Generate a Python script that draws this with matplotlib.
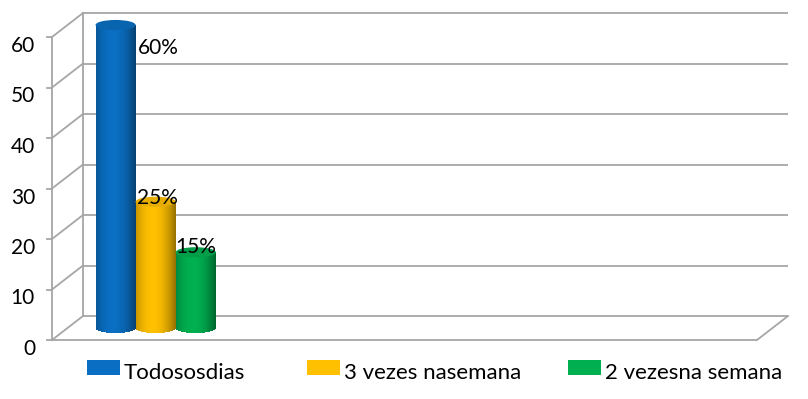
import numpy as np
import matplotlib
matplotlib.use("Agg")
import matplotlib.pyplot as plt
from matplotlib.patches import Ellipse, Rectangle
from matplotlib.transforms import ScaledTranslation, IdentityTransform
from matplotlib.colors import to_rgb

# ---- data ----
series_names = ["Todososdias", "3 vezes nasemana", "2 vezesna semana"]
values = [60, 25, 15]
value_labels = ["60%", "25%", "15%"]
colors = ["#0A6FC2", "#FFC000", "#00B050"]
yticks = [0, 10, 20, 30, 40, 50, 60]
n_categories = 4  # only the first category holds data

plt.rcParams['font.family'] = ['Lato', 'DejaVu Sans']

W, H = 808, 399
fig = plt.figure(figsize=(W / 100, H / 100), dpi=100)
ax = fig.add_axes([52 / W, (H - 340) / H, (757 - 52) / W, (340 - 37) / H])
ax.set_xlim(-0.5, n_categories - 0.5)
ax.set_ylim(0, 60)
ax.axis('off')

# depth offsets (inches)
back = ax.transData + ScaledTranslation(0.31, 0.24, fig.dpi_scale_trans)
mid = ax.transData + ScaledTranslation(0.155, 0.12, fig.dpi_scale_trans)

grid_c = "#A6A6A6"
lw = 1.3
x0, x1 = ax.get_xlim()

# back wall gridlines
for v in yticks:
    ax.plot([x0, x1], [v, v], color=grid_c, lw=lw, transform=back, zorder=1,
            solid_capstyle='butt', clip_on=False)

fig.canvas.draw()
ident = IdentityTransform()

def disp(x, y, tr):
    return tr.transform((x, y))

# left side-wall diagonals and verticals
for v in yticks:
    pf = disp(x0, v, ax.transData)
    pb = disp(x0, v, back)
    ax.add_line(plt.Line2D([pf[0], pb[0]], [pf[1], pb[1]], color=grid_c, lw=lw,
                           transform=ident, zorder=1, clip_on=False))
    ax.add_line(plt.Line2D([pf[0] - 5, pf[0]], [pf[1], pf[1]], color=grid_c, lw=lw,
                           transform=ident, zorder=1, clip_on=False))
    ax.text(pf[0] - 17, pf[1] - 9, str(v), transform=ident, ha='right', va='center',
            fontsize=15, color='black', clip_on=False)

ax.plot([x0, x0], [0, 60], color=grid_c, lw=lw, zorder=1, clip_on=False)
ax.plot([x0, x0], [0, 60], color=grid_c, lw=lw, transform=back, zorder=1, clip_on=False)
ax.plot([x0, x1], [0, 0], color=grid_c, lw=lw, zorder=1, solid_capstyle='butt', clip_on=False)
pf = disp(x1, 0, ax.transData)
pb = disp(x1, 0, back)
ax.add_line(plt.Line2D([pf[0], pb[0]], [pf[1], pb[1]], color=grid_c, lw=lw,
                       transform=ident, zorder=1, clip_on=False))

# cylinders
bw = 1.0 / (len(values) + 1.4)
e = 1.0  # ellipse half-height in data units
nsl = 60

def shade(base, t):
    b = np.array(to_rgb(base))
    k = 1.0 - 0.42 * ((t + 0.15) / 1.15) ** 2
    k = np.clip(k, 0.5, 1.08)
    if k > 1:
        return tuple(np.clip(b + (1 - b) * (k - 1) * 2, 0, 1))
    return tuple(b * k)

for i, (v, c) in enumerate(zip(values, colors)):
    xc = (i - 1) * bw
    edges = np.linspace(xc - bw / 2, xc + bw / 2, nsl + 1)
    for j in range(nsl):
        xm = 0.5 * (edges[j] + edges[j + 1])
        t = (xm - xc) / (bw / 2)
        bot = -e * np.sqrt(max(0.0, 1 - t * t))
        ax.bar(edges[j], v - bot, width=(edges[j + 1] - edges[j]) * 1.05, bottom=bot,
               align='edge', color=shade(c, t), linewidth=0, transform=mid,
               zorder=3 + i, clip_on=False)
    top_c = tuple(np.array(to_rgb(c)) * 0.9)
    ax.add_patch(Ellipse((xc, v), bw, 2 * e, facecolor=top_c, edgecolor='none',
                         transform=mid, zorder=3 + i + 0.5, clip_on=False))

ax.set_xlim(x0, x1)
ax.set_ylim(0, 60)

# value labels
label_offsets = [(43, -23), (2, 4), (0, 5)]
for i, (v, lab) in enumerate(zip(values, value_labels)):
    xc = (i - 1) * bw
    p = disp(xc, v, mid)
    dx, dy = label_offsets[i]
    ax.text(p[0] + dx, p[1] + dy, lab, transform=ident, ha='center', va='center',
            fontsize=15, color='black', zorder=10, clip_on=False)

# legend
leg_x = [87, 307, 568]
for lx, name, c in zip(leg_x, series_names, colors):
    fig.patches.append(Rectangle((lx / W, (H - 375) / H), 33 / W, 15 / H,
                                 transform=fig.transFigure, facecolor=c,
                                 edgecolor='none'))
    fig.text((lx + 37) / W, (H - 373) / H, name, ha='left', va='center',
             fontsize=16, color='black')

fig.savefig("out.png", dpi=100)
